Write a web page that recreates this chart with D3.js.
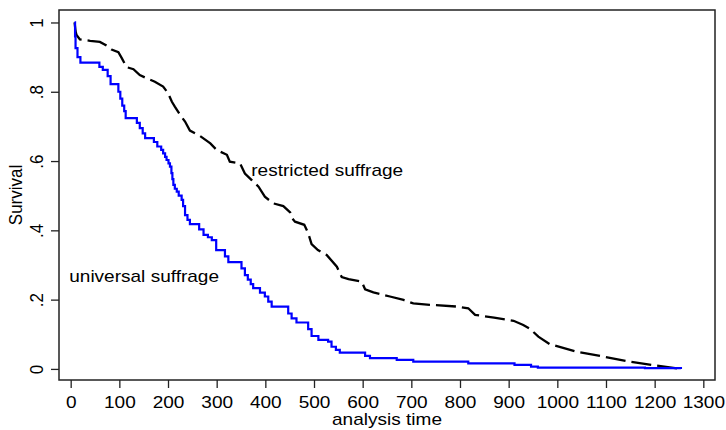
<!DOCTYPE html>
<html>
<head>
<meta charset="utf-8">
<script src="https://cdn.jsdelivr.net/npm/d3@7"></script>
<style>
  body { margin: 0; background: #fff; }
  text { font-family: "Liberation Sans", Arial, sans-serif; font-size: 17px; fill: #000; }
</style>
</head>
<body>
<svg id="chart" width="726" height="430"></svg>
<script>
// Kaplan-Meier estimates: [analysis time, survival]
const universalSuffrage = [
  [8, 1.0], [9, 0.96], [10, 0.926], [14, 0.90], [20, 0.884], [59, 0.872], [66, 0.863],
  [76, 0.845], [82, 0.822], [98, 0.80], [102, 0.78], [106, 0.76], [110, 0.744], [113, 0.724],
  [136, 0.71], [142, 0.695], [148, 0.68], [153, 0.666], [171, 0.655], [178, 0.642],
  [186, 0.632], [190, 0.622], [194, 0.612], [197, 0.603], [201, 0.593], [204, 0.584],
  [207, 0.565], [209, 0.548], [211, 0.531], [214, 0.52], [218, 0.512], [222, 0.50],
  [228, 0.488], [231, 0.47], [235, 0.444], [240, 0.43], [245, 0.418], [264, 0.403],
  [273, 0.387], [282, 0.38], [290, 0.372], [299, 0.343], [317, 0.325], [324, 0.308],
  [351, 0.29], [358, 0.271], [364, 0.258], [370, 0.245], [375, 0.233], [389, 0.22],
  [399, 0.209], [406, 0.194], [413, 0.18], [447, 0.16], [454, 0.146], [464, 0.134],
  [488, 0.115], [495, 0.095], [509, 0.084], [529, 0.079], [536, 0.064], [545, 0.055],
  [553, 0.047], [605, 0.0375], [615, 0.031], [670, 0.026], [704, 0.021], [817, 0.016],
  [912, 0.0115], [946, 0.0067], [960, 0.004], [1180, 0.002], [1254, 0.0]
];

const restrictedSuffrage = [
  [8, 1.0], [10, 0.975], [12, 0.964], [19, 0.951], [40, 0.947], [60, 0.944], [74, 0.933],
  [84, 0.922], [98, 0.914], [105, 0.897], [115, 0.871], [129, 0.865], [142, 0.848],
  [156, 0.839], [173, 0.829], [190, 0.815], [200, 0.796], [208, 0.771], [214, 0.757],
  [225, 0.733], [235, 0.714], [245, 0.688], [266, 0.672], [287, 0.651], [300, 0.632],
  [321, 0.618], [327, 0.598], [348, 0.593], [358, 0.564], [372, 0.545], [386, 0.526],
  [399, 0.497], [416, 0.478], [437, 0.470], [451, 0.452], [455, 0.435], [461, 0.425],
  [480, 0.416], [488, 0.392], [495, 0.360], [508, 0.343], [526, 0.329], [547, 0.295],
  [557, 0.265], [571, 0.259], [598, 0.252], [605, 0.230], [622, 0.221], [656, 0.209],
  [684, 0.199], [704, 0.189], [738, 0.185], [793, 0.18], [817, 0.175], [831, 0.156],
  [870, 0.148], [910, 0.139], [930, 0.127], [945, 0.115], [952, 0.105], [961, 0.093],
  [984, 0.072], [1039, 0.05], [1093, 0.036], [1148, 0.021], [1203, 0.0096], [1254, 0.0]
];

const xTicks = d3.range(0, 1301, 100);
const yTicks = [0, 0.2, 0.4, 0.6, 0.8, 1];

const curveLabels = [
  { text: 'universal suffrage', t: -3, s: 0.25 },
  { text: 'restricted suffrage', t: 371, s: 0.556 }
];

// the reference picture is stretched a little horizontally
const stretch = 'scale(1.12,1)';

const svg = d3.select('#chart');
const plot = { left: 59, right: 715, top: 10, bottom: 380 };

const x = d3.scaleLinear().domain([-24, 1324]).range([plot.left, plot.right]);
const y = d3.scaleLinear().domain([-0.032, 1.036]).range([plot.bottom, plot.top]);

function yFormat(d) {
  // Stata style: 0, .2, .4 ... 1
  if (d === 0 || d === 1) return String(d);
  return String(d).replace('0.', '.');
}

const xAxis = svg.append('g')
  .attr('transform', `translate(0,${plot.bottom})`)
  .call(d3.axisBottom(x).tickValues(xTicks).tickFormat(d3.format('d'))
    .tickSize(8).tickSizeOuter(0));
xAxis.select('.domain').remove();
xAxis.selectAll('line').attr('stroke', '#222').attr('stroke-width', 1.3);
xAxis.selectAll('text')
  .attr('y', 28).attr('dy', 0)
  .attr('transform', stretch)
  .style('font-size', '17px');

const yAxis = svg.append('g')
  .attr('transform', `translate(${plot.left},0)`)
  .call(d3.axisLeft(y).tickValues(yTicks).tickFormat(yFormat).tickSize(8).tickSizeOuter(0));
yAxis.select('.domain').remove();
yAxis.selectAll('line').attr('stroke', '#222').attr('stroke-width', 1.3);
yAxis.selectAll('text')
  .attr('x', 0).attr('y', 0).attr('dy', 0)
  .attr('text-anchor', 'middle')
  .attr('transform', `translate(-16,0) ${stretch} rotate(-90)`)
  .style('font-size', '17px');

// plot region outline
svg.append('rect')
  .attr('x', plot.left).attr('y', plot.top)
  .attr('width', plot.right - plot.left).attr('height', plot.bottom - plot.top)
  .attr('fill', 'none').attr('stroke', '#222').attr('stroke-width', 1.5);

const stepLine = d3.line()
  .x((d) => x(d[0]))
  .y((d) => y(d[1]))
  .curve(d3.curveStepAfter);

const smoothLine = d3.line()
  .x((d) => x(d[0]))
  .y((d) => y(d[1]));

svg.append('path')
  .datum(restrictedSuffrage)
  .attr('d', smoothLine)
  .attr('fill', 'none')
  .attr('stroke', '#000')
  .attr('stroke-width', 2.3)
  .attr('stroke-dasharray', '20,6');

svg.append('path')
  .datum(universalSuffrage)
  .attr('d', stepLine)
  .attr('fill', 'none')
  .attr('stroke', '#0000ff')
  .attr('stroke-width', 2.2);

svg.selectAll('.curve-label')
  .data(curveLabels)
  .enter().append('text')
  .attr('class', 'curve-label')
  .attr('transform', (d) => `translate(${x(d.t)},${y(d.s)}) ${stretch}`)
  .text((d) => d.text);

// axis titles
svg.append('text')
  .attr('text-anchor', 'middle')
  .attr('transform', `translate(${(plot.left + plot.right) / 2},425) ${stretch}`)
  .text('analysis time');

svg.append('text')
  .attr('text-anchor', 'middle')
  .attr('transform', `translate(22,${(plot.top + plot.bottom) / 2}) ${stretch} rotate(-90)`)
  .text('Survival');
</script>
</body>
</html>
